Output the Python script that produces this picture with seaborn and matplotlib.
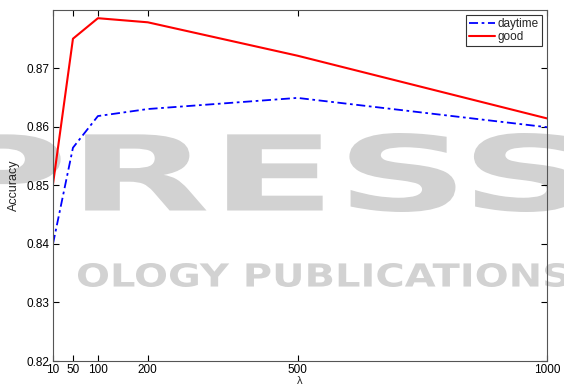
import matplotlib
matplotlib.use("Agg")
import matplotlib.pyplot as plt
import seaborn as sns
import pandas as pd
from matplotlib.textpath import TextPath
from matplotlib.patches import PathPatch
from matplotlib.font_manager import FontProperties
from matplotlib.transforms import Affine2D

lambdas = [10, 50, 100, 200, 500, 1000]
daytime = [0.8400, 0.8564, 0.8618, 0.8630, 0.8649, 0.8599]
good = [0.8502, 0.8750, 0.8785, 0.8778, 0.8721, 0.8614]
yticks = [0.82, 0.83, 0.84, 0.85, 0.86, 0.87]

sns.set_style("white")
plt.rcParams['font.family'] = ['Liberation Sans', 'DejaVu Sans']

fig = plt.figure(figsize=(5.64, 3.85), dpi=100)

# background watermark layer (in pixel coordinates)
bg = fig.add_axes([0, 0, 1, 1], zorder=0)
bg.set_xlim(0, 564)
bg.set_ylim(385, 0)
bg.axis('off')


def stretched_text(s, x0, x1, y0, y1):
    fp = FontProperties(family='DejaVu Sans', weight='bold')
    tp = TextPath((0, 0), s, size=100, prop=fp)
    ext = tp.get_extents()
    sx = (x1 - x0) / ext.width
    sy = (y1 - y0) / ext.height
    tr = Affine2D().translate(-ext.x0, -ext.y0).scale(sx, -sy).translate(x0, y1)
    patch = PathPatch(tr.transform_path(tp), facecolor='#d2d2d2', edgecolor='none')
    bg.add_patch(patch)


stretched_text("PRESS", -50, 580, 133, 212)
stretched_text("OLOGY PUBLICATIONS", 78, 568, 263, 287)

ax = fig.add_axes([53/564, 1 - 361/385, (547-53)/564, (361-10)/385], zorder=1)
ax.patch.set_alpha(0)

df_d = pd.DataFrame({"lam": lambdas, "acc": daytime})
df_g = pd.DataFrame({"lam": lambdas, "acc": good})
sns.lineplot(data=df_d, x="lam", y="acc", ax=ax, color='#0000ff', lw=1.3,
             label='daytime')
sns.lineplot(data=df_g, x="lam", y="acc", ax=ax, color='#ff0000', lw=1.5,
             label='good')
ax.lines[0].set_dashes((5, 2, 1.5, 2))

ax.set_xlim(10, 1000)
ax.set_ylim(0.82, 0.8799)
ax.set_xticks(lambdas)
ax.set_xticklabels([str(v) for v in lambdas])
ax.set_yticks(yticks)
ax.set_yticklabels([f"{v:.2f}" for v in yticks])
ax.tick_params(direction='in', length=4, width=0.8, labelsize=8.5,
               top=True, right=True, bottom=True, left=True, colors='black')
ax.tick_params(axis='x', pad=2.5)
ax.tick_params(axis='y', pad=2.5)
for s in ax.spines.values():
    s.set_visible(True)
    s.set_color('#555555')
    s.set_linewidth(0.8)
ax.set_xlabel("λ", fontsize=8, labelpad=0)
ax.set_ylabel("Accuracy", fontsize=9, labelpad=5)

leg = ax.legend(loc='upper right', fontsize=8.5, frameon=True, fancybox=False,
                edgecolor='#333333', framealpha=1, borderpad=0.25, handlelength=2.2,
                handletextpad=0.2, labelspacing=0.1, borderaxespad=0.45)
leg.get_frame().set_linewidth(0.8)

fig.savefig("out.png", dpi=100)
